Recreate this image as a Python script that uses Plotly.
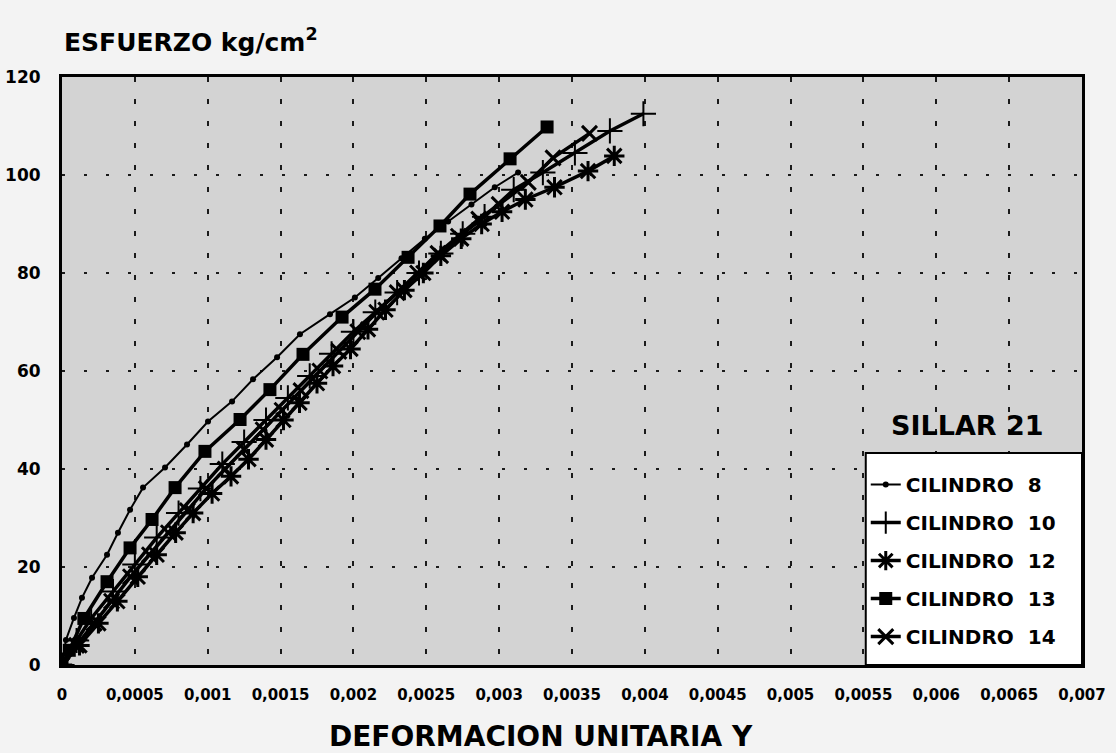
import plotly.graph_objects as go

# ---------------- data ----------------
strain_c8 = [0, 0.000027, 0.000082, 0.000137, 0.000206, 0.000309, 0.000384, 0.000467, 0.000556,
             0.000707, 0.000858, 0.001002, 0.001167, 0.001311, 0.001476, 0.001633, 0.001839,
             0.00201, 0.00217, 0.00233, 0.00249, 0.00265, 0.00281, 0.00297, 0.00313]
stress_c8 = [0, 5.1, 9.6, 13.7, 17.8, 22.5, 27.0, 31.7, 36.2,
             40.3, 45.0, 49.7, 53.8, 58.3, 62.8, 67.5, 71.6,
             75, 79, 83, 87, 90.5, 94, 97.5, 100.5]

strain_c10 = [0, 0.0001, 0.0002, 0.00035, 0.0005, 0.00065, 0.0008, 0.00095, 0.0011, 0.00125,
              0.0014, 0.00155, 0.0017, 0.00185, 0.002, 0.00215, 0.0023, 0.00245, 0.0026,
              0.00275, 0.0029, 0.0031, 0.0033, 0.00352, 0.00376, 0.00399]
stress_c10 = [0, 5, 9.5, 15, 20.5, 26, 31, 36, 41, 45.5,
              50, 54.5, 59, 63.5, 68, 72, 76, 80, 84,
              88, 91.5, 97, 100.5, 104.5, 109, 112.5]

strain_c12 = [0, 0.00012, 0.00025, 0.00038, 0.00052, 0.00065, 0.00078, 0.0009, 0.00103, 0.00116,
              0.00128, 0.0014, 0.00152, 0.00163, 0.00175, 0.00186, 0.00198, 0.0021, 0.00222,
              0.00235, 0.00248, 0.0026, 0.00274, 0.00288, 0.00302, 0.00318, 0.00338, 0.00361, 0.00379]
stress_c12 = [0, 4, 8.5, 13, 18, 22.5, 27, 31, 35, 38.5,
              42, 46, 50, 53.5, 57.5, 61, 64.5, 68.5, 72.5,
              76.5, 80, 83.5, 87, 90, 92.5, 95, 97.5, 100.8, 103.9]

strain_c13 = [0, 0.00005, 0.00015, 0.000309, 0.000467, 0.000618, 0.000776, 0.000981, 0.001222,
              0.001427, 0.001654, 0.001922, 0.002148, 0.002375, 0.002594, 0.0028, 0.003075, 0.003329]
stress_c13 = [0, 3, 9.5, 17.0, 23.9, 29.7, 36.2, 43.6, 50.1,
              56.2, 63.4, 71.0, 76.7, 83.2, 89.6, 96.1, 103.3, 109.8]

strain_c14 = [0, 0.0001, 0.00022, 0.00034, 0.00047, 0.0006, 0.00073, 0.00086, 0.00099, 0.00112,
              0.00125, 0.00138, 0.00151, 0.00164, 0.00177, 0.0019, 0.00203, 0.00216, 0.0023,
              0.00244, 0.00258, 0.00272, 0.00286, 0.003, 0.0032, 0.00337, 0.00362]
stress_c14 = [0, 4, 8.5, 13, 18, 22.5, 27, 31.5, 36, 40,
              44, 48, 52, 56, 60, 64, 68, 72, 76,
              80, 84, 87.5, 91, 94, 98.5, 103.5, 108.5]

series_names = ["CILINDRO 8", "CILINDRO 10", "CILINDRO 12", "CILINDRO 13", "CILINDRO 14"]

x_tickvals = [0, 0.0005, 0.001, 0.0015, 0.002, 0.0025, 0.003, 0.0035,
              0.004, 0.0045, 0.005, 0.0055, 0.006, 0.0065, 0.007]
x_ticktext = ["0", "0,0005", "0,001", "0,0015", "0,002", "0,0025", "0,003", "0,0035",
              "0,004", "0,0045", "0,005", "0,0055", "0,006", "0,0065", "0,007"]
y_tickvals = [0, 20, 40, 60, 80, 100, 120]

# ---------------- styling ----------------
FONT = "DejaVu Sans"
BOLD = dict(family=FONT, color="black", weight="bold")

styles = [
    dict(marker=dict(symbol="circle", size=6, color="black"), line=dict(color="black", width=2)),
    dict(marker=dict(symbol="cross-thin", size=18, color="black", line=dict(color="black", width=2)),
         line=dict(color="black", width=3.5)),
    dict(marker=dict(symbol="asterisk", size=17, color="black", line=dict(color="black", width=3)),
         line=dict(color="black", width=3.5)),
    dict(marker=dict(symbol="square", size=13, color="black"), line=dict(color="black", width=3.5)),
    dict(marker=dict(symbol="x-thin", size=15, color="black", line=dict(color="black", width=3)),
         line=dict(color="black", width=3.5)),
]
data = [(strain_c8, stress_c8), (strain_c10, stress_c10), (strain_c12, stress_c12),
        (strain_c13, stress_c13), (strain_c14, stress_c14)]

fig = go.Figure()
for name, (xs, ys), st in zip(series_names, data, styles):
    label = name.replace(" ", "\u00a0\u00a0")
    fig.add_trace(go.Scatter(x=xs, y=ys, mode="lines+markers", name=label,
                             legendgroup=name, marker=st["marker"], line=st["line"]))

# legend box (white panel with black frame), drawn in paper coordinates
fig.add_shape(type="rect", xref="paper", yref="paper", x0=0.788, x1=1.0, y0=0.0, y1=0.3605,
              fillcolor="white", line=dict(color="black", width=2), layer="above")

fig.update_layout(
    width=1116, height=753, autosize=False,
    margin=dict(l=62, r=34, t=77, b=88),
    paper_bgcolor="#f3f3f3",
    plot_bgcolor="#d3d3d3",
    showlegend=True,
    legend=dict(x=0.788, y=0.340, xanchor="left", yanchor="top",
                bgcolor="rgba(0,0,0,0)", borderwidth=0,
                font=dict(size=20, **BOLD), tracegroupgap=9, itemwidth=30),
    annotations=[
        dict(text="ESFUERZO kg/cm<sup>2</sup>", xref="paper", yref="paper", x=0, y=1.062,
             xanchor="left", yanchor="middle", showarrow=False, font=dict(size=25, **BOLD)),
        dict(text="DEFORMACION UNITARIA Y", xref="paper", yref="paper", x=0.4696, y=-0.1224,
             xanchor="center", yanchor="middle", showarrow=False, font=dict(size=28, **BOLD)),
        dict(text="SILLAR 21", xref="paper", yref="paper", x=0.888, y=0.408,
             xanchor="center", yanchor="middle", showarrow=False, font=dict(size=27, **BOLD)),
    ],
)

fig.update_xaxes(range=[0, 0.007], tickvals=x_tickvals, ticktext=x_ticktext,
                 showgrid=True, gridcolor="#1a1a1a", gridwidth=2, griddash="5px,17px",
                 showline=True, linecolor="black", linewidth=3, mirror=True,
                 zeroline=False, ticks="", ticklabelstandoff=14, automargin=False,
                 tickfont=dict(size=15, **BOLD))
fig.update_yaxes(range=[0, 120], tickvals=y_tickvals,
                 showgrid=True, gridcolor="#1a1a1a", gridwidth=2, griddash="3px,19px",
                 showline=True, linecolor="black", linewidth=3, mirror=True,
                 zeroline=False, ticks="", ticklabelstandoff=15, automargin=False,
                 tickfont=dict(size=17, **BOLD))

fig.write_html("out.html", config={"displayModeBar": False},
               post_script="document.body.style.margin='0';")
